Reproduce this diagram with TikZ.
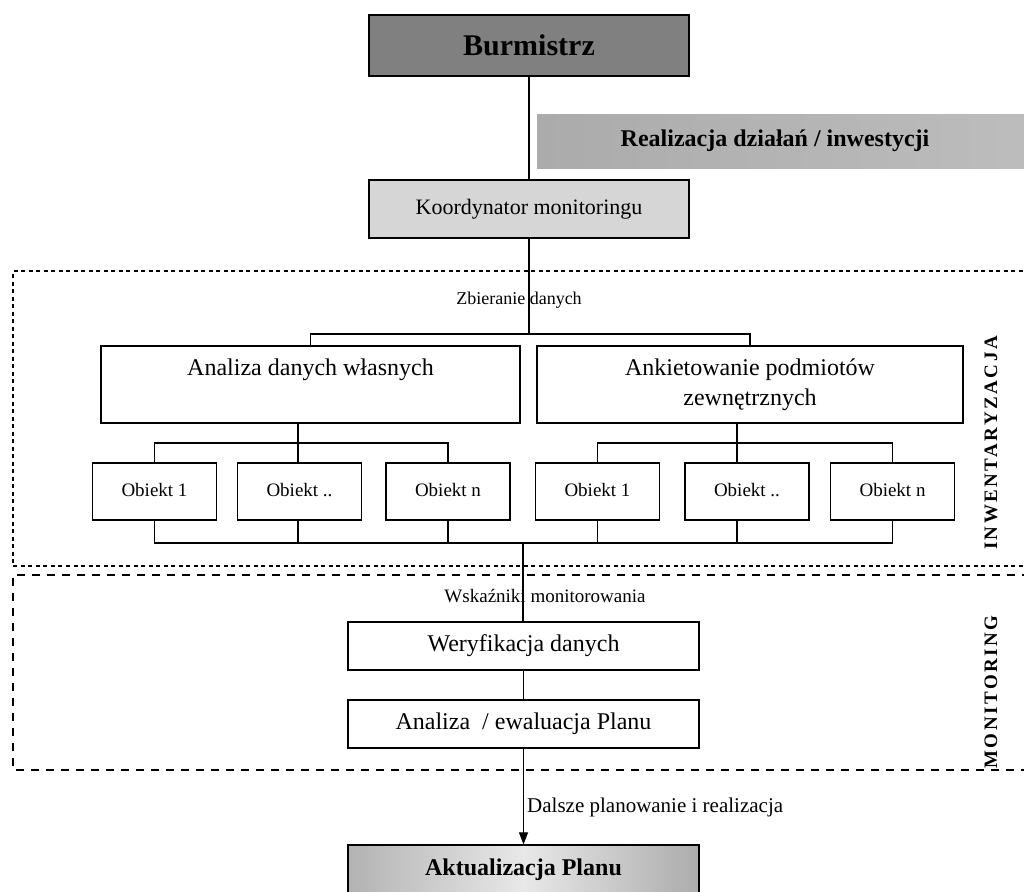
\documentclass[tikz,border=0pt]{standalone}
\usepackage{fontspec}
\setmainfont{Liberation Serif}
\newfontfamily\spacedfont[LetterSpace=13]{Liberation Serif Bold}
\usetikzlibrary{arrows.meta}
\definecolor{burmfill}{gray}{0.50}
\definecolor{koordfill}{gray}{0.84}
\begin{document}
\begin{tikzpicture}[x=1pt,y=-1pt,
  box/.style={draw=black,line width=1.2pt,rectangle,inner sep=0pt,align=center},
  conn/.style={draw=black,line width=1.1pt},
  lbl/.style={inner sep=0pt},
  objbox/.style={box,minimum width=124,minimum height=57,text height=13,text depth=4,font=\fontsize{19}{22}\selectfont},
  midbox/.style={box,minimum width=351,minimum height=48,font=\fontsize{24}{28}\selectfont},
  bigbox/.style={box,minimum height=77,font=\fontsize{24}{30}\selectfont},
  inwline/.style={draw=black,line width=1.2pt,dash pattern=on 4pt off 3.5pt},
  monline/.style={draw=black,line width=1.8pt,dash pattern=on 8pt off 7pt},
  sidelabel/.style={rotate=90,inner sep=0pt,font=\spacedfont\fontsize{19}{22}\selectfont}]
\useasboundingbox (0,0) rectangle (1024,891);

% top
\node[box,fill=burmfill,minimum width=320,minimum height=61,font=\fontsize{30}{34}\selectfont\bfseries] (burm) at (529,45.5) {Burmistrz};
\shade[left color=gray!66,right color=gray!52] (537,114) rectangle (1030,168);
\node[lbl,font=\fontsize{24}{28}\selectfont\bfseries] (real) at (775,141) {Realizacja działań / inwestycji};
\node[box,fill=koordfill,minimum width=320,minimum height=58,font=\fontsize{22}{26}\selectfont] (koord) at (529,209) {Koordynator monitoringu};

% dashed frames
\draw[inwline] (1030,271) -- (13,271) -- (13,566) -- (1030,566);
\draw[monline] (1030,575) -- (13,575) -- (13,770) -- (1030,770);
\node[sidelabel] (inw) at (991,443) {INWENTARYZACJA};
\node[sidelabel] (mon) at (991,692) {MONITORING};

% inventory
\node[lbl,font=\fontsize{18}{21}\selectfont] (zb) at (519,300) {Zbieranie danych};
\coordinate (br1) at (529,334);
\node[bigbox,minimum width=419] (ana) at (310.5,384.5) {Analiza danych własnych\\\phantom{zewnętrznych}};
\node[bigbox,minimum width=426] (ank) at (750,384.5) {Ankietowanie podmiotów\\zewnętrznych};

\node[objbox] (o1) at (154.5,491.5) {Obiekt 1};
\node[objbox] (o2) at (299.5,491.5) {Obiekt ..};
\node[objbox] (o3) at (448,491.5) {Obiekt n};
\node[objbox] (o4) at (597.5,491.5) {Obiekt 1};
\node[objbox] (o5) at (747,491.5) {Obiekt ..};
\node[objbox] (o6) at (892.5,491.5) {Obiekt n};

\coordinate (sb1) at (298,443);
\coordinate (sb2) at (737,443);
\coordinate (bt) at (523,543);

\draw[conn] (burm) -- (koord);
\draw[conn] (koord.south) -- (br1);
\draw[conn] (ana.north) |- (br1) -| (ank.north);
\draw[conn] (ana.south -| sb1) -- (o2.north -| sb1);
\draw[conn] (o1.north) |- (sb1) -| (o3.north);
\draw[conn] (ank.south -| sb2) -- (o5.north -| sb2);
\draw[conn] (o4.north) |- (sb2) -| (o6.north);
\draw[conn] (o1.south) |- (bt) -| (o6.south);
\draw[conn] (o2.south -| sb1) -- (sb1 |- bt);
\draw[conn] (o3.south) -- (o3.south |- bt);
\draw[conn] (o4.south) -- (o4.south |- bt);
\draw[conn] (o5.south -| sb2) -- (sb2 |- bt);

% monitoring
\node[lbl,font=\fontsize{19}{22}\selectfont] (wsk) at (545,596) {Wskaźniki monitorowania};
\node[midbox] (wer) at (523.5,646) {Weryfikacja danych};
\node[midbox] (anl) at (523.5,724) {Analiza \ / ewaluacja Planu};
\draw[conn] (bt) -- (wer.north -| bt);
\draw[conn] (wer) -- (anl);

% bottom
\node[box,minimum width=351,minimum height=50,left color=gray!60,right color=gray!65,middle color=gray!18,font=\fontsize{24}{28}\selectfont\bfseries] (akt) at (523.5,870) {Aktualizacja Planu};
\draw[conn,-{Triangle[length=12pt,width=9pt]}] (anl.south) -- (akt.north);
\node[lbl,anchor=west,font=\fontsize{21}{24}\selectfont] (dal) at (527,807) {Dalsze planowanie i realizacja};
\end{tikzpicture}
\end{document}
